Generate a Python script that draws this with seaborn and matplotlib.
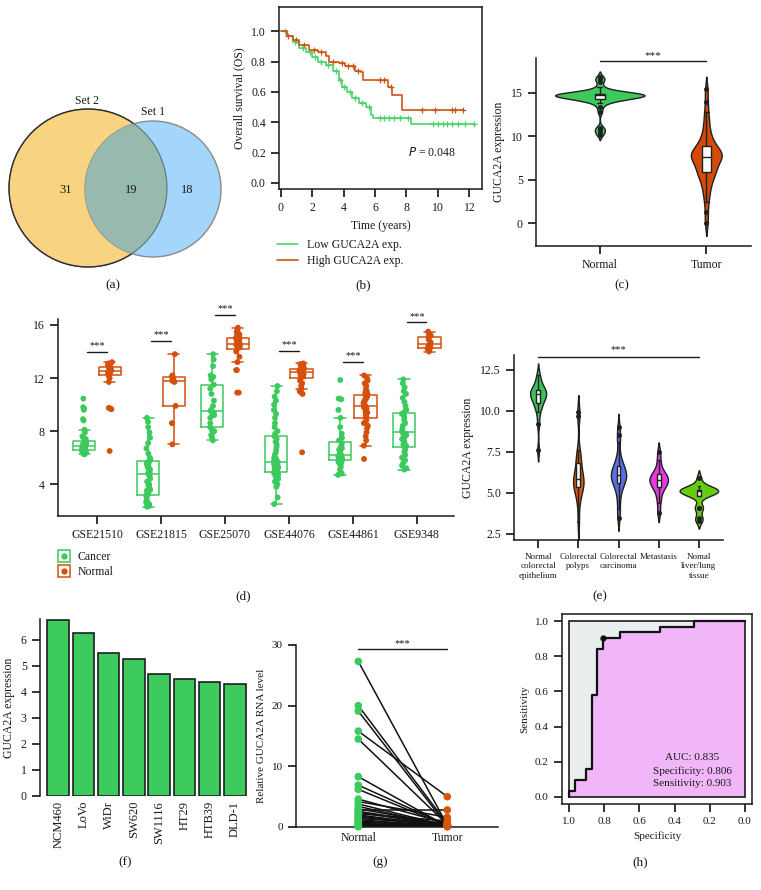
import numpy as np
import pandas as pd
import matplotlib
matplotlib.use('Agg')
import matplotlib.pyplot as plt
import seaborn as sns
from matplotlib.patches import Circle, Rectangle
from matplotlib.lines import Line2D

# ---------------- data ----------------
# (a) venn counts: only set 2, both, only set 1
venn_labels = ['Set 2', 'Set 1']
venn_counts = [31, 19, 18]

# (b) Kaplan-Meier steps
low_t = [0, 0.4, 0.8, 1.2, 1.6, 2.0, 2.4, 2.9, 3.3, 3.7, 3.9, 4.2, 4.55, 5.0, 5.4, 5.75, 5.85, 8.3, 12.35]
low_s = [1.0, 0.97, 0.93, 0.89, 0.86, 0.83, 0.80, 0.78, 0.74, 0.68, 0.63, 0.60, 0.56, 0.53, 0.50, 0.45, 0.43, 0.39, 0.39]
high_t = [0, 0.4, 0.8, 1.2, 1.8, 2.4, 2.9, 3.1, 3.7, 4.1, 4.75, 5.1, 5.25, 6.85, 7.05, 7.7, 11.6]
high_s = [1.0, 0.97, 0.94, 0.91, 0.875, 0.86, 0.84, 0.80, 0.79, 0.77, 0.74, 0.73, 0.68, 0.635, 0.58, 0.48, 0.48]
low_cens = [0.3, 0.9, 1.4, 1.9, 2.2, 2.6, 3.0, 3.5, 3.8, 4.0, 4.4, 4.7, 5.2, 5.6, 6.3, 6.6, 6.9, 7.2,
            7.6, 8.1, 9.7, 10.0, 10.3, 10.6, 10.9, 11.3, 11.7, 12.3]
high_cens = [0.5, 1.0, 1.5, 2.1, 2.6, 3.3, 3.9, 4.3, 4.6, 4.9, 6.3, 6.6, 7.0, 9.0, 9.8, 10.9, 11.1, 11.6]

# (c) expression, TCGA
c_groups = ['Normal', 'Tumor']
c_normal = [10.2, 10.5, 10.8, 11.0, 12.8, 13.4, 13.8, 14.0, 14.1, 14.2, 14.2, 14.3, 14.3, 14.4, 14.4,
            14.5, 14.5, 14.5, 14.6, 14.6, 14.6, 14.7, 14.7, 14.7, 14.7, 14.8, 14.8, 14.8, 14.8, 14.8,
            14.8, 14.8, 14.9, 14.9, 14.9, 14.9, 15.0, 15.0, 15.1, 15.2, 15.4, 15.7, 16.3, 16.6, 16.8]
c_tumor = [0.0, 1.3, 2.5, 3.2, 3.8, 4.3, 4.7, 5.0, 5.3, 5.6, 5.8, 6.0, 6.1, 6.3, 6.5, 6.7, 6.9, 7.1,
           7.3, 7.4, 7.5, 7.6, 7.7, 7.8, 7.9, 8.0, 8.1, 8.2, 8.3, 8.4, 8.6, 8.8, 9.0, 9.2, 9.5, 9.8,
           10.2, 10.7, 11.3, 12.0, 12.8, 14.0, 15.4]

# (d) GEO datasets
gse_names = ['GSE21510', 'GSE21815', 'GSE25070', 'GSE44076', 'GSE44861', 'GSE9348']
gse21510_cancer = [6.25, 6.3, 6.3, 6.35, 6.4, 6.4, 6.45, 6.5, 6.5, 6.55, 6.55, 6.6, 6.6, 6.65, 6.65,
                   6.7, 6.7, 6.75, 6.75, 6.8, 6.8, 6.85, 6.85, 6.9, 6.9, 6.95, 7.0, 7.0, 7.05, 7.05,
                   7.1, 7.15, 7.2, 7.4, 7.5, 7.6, 7.9, 8.1, 8.8, 8.9, 9.6, 9.7, 9.8, 10.45]
gse21510_normal = [6.5, 9.65, 9.7, 9.75, 11.7, 12.0, 12.2, 12.3, 12.35, 12.4, 12.45, 12.5, 12.55,
                   12.55, 12.6, 12.65, 12.7, 12.75, 12.8, 12.85, 12.9, 12.95, 13.0, 13.1, 13.2]
gse21815_cancer = [2.3, 2.35, 2.4, 2.45, 2.5, 2.55, 2.6, 2.7, 2.8, 3.0, 3.1, 3.2, 3.3, 3.5, 3.6, 3.8,
                   3.9, 4.0, 4.2, 4.4, 4.6, 4.7, 4.8, 4.85, 4.9, 5.0, 5.1, 5.2, 5.3, 5.4, 5.5, 5.6,
                   5.7, 5.8, 5.9, 6.0, 6.3, 6.7, 7.1, 7.5, 7.9, 8.3, 8.7, 9.0]
gse21815_normal = [7.0, 8.6, 9.9, 11.7, 11.8, 11.9, 12.1, 12.2, 13.8]
gse25070_cancer = [7.3, 7.5, 7.7, 7.9, 8.0, 8.1, 8.3, 8.6, 9.0, 9.2, 9.3, 9.4, 9.5, 9.6, 9.9, 10.3,
                   10.8, 11.2, 11.5, 11.9, 12.1, 12.2, 12.9, 13.4, 13.8]
gse25070_normal = [10.9, 10.9, 12.6, 12.6, 13.2, 13.6, 14.0, 14.3, 14.3, 14.4, 14.4, 14.5, 14.5, 14.6,
                   14.6, 14.7, 14.75, 14.8, 14.9, 15.0, 15.0, 15.1, 15.2, 15.3, 15.4, 15.5, 15.6, 15.8]
gse44076_cancer = [2.5, 3.0, 3.8, 4.0, 4.2, 4.4, 4.5, 4.6, 4.7, 4.75, 4.8, 4.85, 4.9, 5.0, 5.05, 5.1,
                   5.2, 5.25, 5.3, 5.4, 5.45, 5.5, 5.6, 5.65, 5.7, 5.75, 5.8, 5.9, 6.0, 6.2, 6.4, 6.6,
                   6.8, 7.0, 7.2, 7.4, 7.6, 7.8, 8.0, 8.3, 8.6, 9.0, 9.3, 9.6, 10.0, 10.3, 10.6, 11.0, 11.4]
gse44076_normal = [6.4, 10.8, 10.9, 11.0, 11.2, 11.4, 11.6, 11.8, 12.0, 12.1, 12.2, 12.25, 12.3, 12.35,
                   12.4, 12.4, 12.45, 12.5, 12.5, 12.55, 12.55, 12.6, 12.6, 12.65, 12.7, 12.7, 12.75,
                   12.8, 12.85, 12.9, 12.95, 13.0, 13.05, 13.1]
gse44861_cancer = [4.7, 4.8, 4.9, 5.1, 5.3, 5.5, 5.6, 5.7, 5.75, 5.8, 5.85, 5.9, 5.95, 6.0, 6.05, 6.1,
                   6.1, 6.15, 6.2, 6.3, 6.4, 6.5, 6.6, 6.7, 6.8, 6.9, 7.1, 7.3, 7.5, 7.8, 8.3, 9.0, 9.6,
                   10.4, 10.45, 11.85]
gse44861_normal = [5.9, 6.9, 7.3, 7.6, 7.9, 8.2, 8.4, 8.6, 8.8, 9.0, 9.1, 9.2, 9.3, 9.4, 9.5, 9.6, 9.7,
                   9.8, 9.9, 10.0, 10.0, 10.1, 10.2, 10.3, 10.4, 10.5, 10.6, 10.7, 10.8, 10.9, 11.0, 11.2,
                   11.4, 11.6, 11.8, 12.0, 12.2]
gse9348_cancer = [5.1, 5.2, 5.4, 5.6, 5.8, 6.0, 6.2, 6.4, 6.6, 6.8, 6.9, 7.0, 7.2, 7.4, 7.5, 7.6, 7.7,
                  7.8, 7.9, 8.0, 8.2, 8.4, 8.6, 8.8, 9.0, 9.2, 9.3, 9.4, 9.6, 9.9, 10.2, 10.5, 10.8, 11.0,
                  11.3, 11.6, 11.9]
gse9348_normal = [14.0, 14.1, 14.2, 14.3, 14.4, 14.5, 14.6, 14.7, 14.9, 15.1, 15.2, 15.3, 15.5]
gse_star_y = [14.0, 14.8, 16.75, 14.05, 13.2, 16.2]

# (e) tissue types
e_labels = ['Normal\ncolorectal\nepithelium', 'Colorectal\npolyps', 'Colorectal\ncarcinoma',
            'Metastasis', 'Nomal\nliver/lung\ntissue']
e_normal_epi = [7.6, 9.2, 9.9, 10.2, 10.4, 10.5, 10.7, 10.8, 10.9, 11.0, 11.0, 11.1, 11.2, 11.2, 11.3,
                11.4, 11.6, 11.9, 12.2]
e_polyps = [3.2, 4.3, 4.8, 5.1, 5.3, 5.4, 5.5, 5.6, 5.7, 5.8, 5.9, 6.0, 6.2, 6.5, 6.8, 7.0, 7.3, 7.6,
            9.7, 9.9]
e_carcinoma = [3.5, 4.0, 4.6, 5.0, 5.3, 5.5, 5.6, 5.7, 5.8, 5.9, 6.0, 6.1, 6.1, 6.2, 6.3, 6.4, 6.5,
               6.6, 6.8, 7.0, 7.3, 8.1, 8.5, 9.0]
e_metastasis = [3.8, 4.4, 4.8, 5.1, 5.3, 5.4, 5.5, 5.6, 5.7, 5.8, 5.8, 5.9, 6.0, 6.1, 6.2, 6.3, 6.6,
                7.0, 7.5]
e_liver_lung = [3.3, 3.5, 4.1, 4.1, 4.8, 4.9, 5.0, 5.0, 5.1, 5.1, 5.1, 5.2, 5.2, 5.3, 5.3, 5.4, 5.9]

# (f) cell lines
cell_lines = ['NCM460', 'LoVo', 'WiDr', 'SW620', 'SW1116', 'HT29', 'HTB39', 'DLD-1']
cell_expr = [6.75, 6.27, 5.5, 5.27, 4.69, 4.5, 4.38, 4.31]

# (g) paired qPCR
g_normal = [27.3, 20.0, 19.1, 15.8, 14.5, 8.3, 6.9, 6.2, 4.6, 4.2, 3.8, 3.4, 3.0, 2.8, 2.6, 2.4,
            2.2, 2.0, 1.8, 1.6, 1.4, 1.2, 1.0, 0.8, 0.6, 0.5, 0.4, 0.3, 0.2, 0.1, 0.05]
g_tumor = [0.3, 0.5, 0.2, 5.0, 0.4, 0.1, 0.3, 0.2, 0.6, 1.6, 0.2, 0.1, 0.4, 2.8, 0.3, 0.2, 1.0,
           0.1, 0.3, 0.2, 0.5, 0.1, 0.3, 0.2, 0.1, 0.4, 0.2, 0.1, 0.3, 0.2, 0.1]

# (h) ROC
roc_spec = [1.0, 1.0, 0.968, 0.968, 0.903, 0.903, 0.871, 0.871, 0.839, 0.839, 0.806, 0.806,
            0.71, 0.71, 0.484, 0.484, 0.29, 0.29, 0.0]
roc_sens = [0.0, 0.032, 0.032, 0.097, 0.097, 0.161, 0.161, 0.581, 0.581, 0.839, 0.839, 0.903,
            0.903, 0.935, 0.935, 0.968, 0.968, 1.0, 1.0]
roc_best = (0.806, 0.903)
roc_text = 'AUC: 0.835\nSpecificity: 0.806\nSensitivity: 0.903'

# ---------------- style ----------------
sns.set_theme(style='ticks')
plt.rcParams['font.family'] = ['Liberation Serif', 'DejaVu Serif']
plt.rcParams['font.size'] = 8
plt.rcParams['axes.labelsize'] = 8.5
plt.rcParams['xtick.labelsize'] = 8.5
plt.rcParams['ytick.labelsize'] = 8.5
plt.rcParams['axes.edgecolor'] = '#1a1a1a'
plt.rcParams['axes.linewidth'] = 1.1
plt.rcParams['xtick.color'] = '#1a1a1a'
plt.rcParams['ytick.color'] = '#1a1a1a'
plt.rcParams['text.color'] = '#1a1a1a'
plt.rcParams['axes.labelcolor'] = '#1a1a1a'

GREEN = '#3cc95d'
ORANGE = '#d4500c'
W, H = 761, 890
fig = plt.figure(figsize=(W / 100, H / 100), dpi=100)


def add_ax(l, t, r, b):
    return fig.add_axes([l / W, 1 - b / H, (r - l) / W, (b - t) / H])


def tag(x, y, s):
    fig.text(x / W, 1 - y / H, s, ha='center', va='center', fontsize=9.5)


def violins(ax, df, xcol, order, colors, widths, bw):
    # one call per group so each violin keeps its own width
    for grp, col, wd in zip(order, colors, widths):
        sns.violinplot(data=df[df[xcol] == grp], x=xcol, y='value', order=order, color=col,
                       inner=None, linecolor='#1f1f1f', linewidth=1.0, density_norm='width',
                       width=wd, bw_adjust=bw, saturation=1, ax=ax)
    sns.boxplot(data=df, x=xcol, y='value', order=order, color='white', linecolor='#1f1f1f',
                width=0.09, linewidth=1.0, fliersize=2.5, saturation=1,
                flierprops=dict(marker='o', markerfacecolor='#1f1f1f', markeredgecolor='#1f1f1f'),
                ax=ax)


# (a) venn
ax = add_ax(0, 80, 230, 280)
ax.set_xlim(0, 230)
ax.set_ylim(280, 80)
ax.axis('off')
c2 = Circle((88, 188), 79, facecolor='#f7d382', edgecolor='#222222', lw=1.0)
c1 = Circle((153, 189), 68, facecolor='#a3d6fa', edgecolor='#8a8a8a', lw=1.0)
ax.add_patch(c2)
ax.add_patch(c1)
ov = Circle((153, 189), 68, facecolor='#98baae', edgecolor='none')
ax.add_patch(ov)
ov.set_clip_path(c2)
ax.add_patch(Circle((88, 188), 79, facecolor='none', edgecolor='#3a3a3a', lw=0.8, alpha=0.6))
ax.text(87, 101, venn_labels[0], ha='center', va='center', fontsize=8.5)
ax.text(153, 112, venn_labels[1], ha='center', va='center', fontsize=8.5)
for x, n in zip([66, 131, 187], venn_counts):
    ax.text(x, 190, str(n), ha='center', va='center', fontsize=9)
tag(113, 285, '(a)')

# (b) survival
ax = add_ax(279, 7, 482, 189)
sns.lineplot(x=low_t, y=low_s, drawstyle='steps-post', color='#4ed36b', lw=1.2, ax=ax)
sns.lineplot(x=high_t, y=high_s, drawstyle='steps-post', color='#cf5414', lw=1.2, ax=ax)
low_cy = [low_s[np.searchsorted(low_t, t, side='right') - 1] for t in low_cens]
high_cy = [high_s[np.searchsorted(high_t, t, side='right') - 1] for t in high_cens]
sns.scatterplot(x=low_cens, y=low_cy, marker='+', color='#4ed36b', s=22, linewidth=0.9, ax=ax)
sns.scatterplot(x=high_cens, y=high_cy, marker='+', color='#cf5414', s=22, linewidth=0.9, ax=ax)
ax.set_xlim(-0.1, 12.8)
ax.set_ylim(-0.04, 1.16)
ax.set_xticks([0, 2, 4, 6, 8, 10, 12])
ax.set_yticks([0, 0.2, 0.4, 0.6, 0.8, 1.0])
ax.set_yticklabels(['0.0', '0.2', '0.4', '0.6', '0.8', '1.0'])
ax.set_xlabel('Time (years)')
ax.set_ylabel('Overall survival (OS)')
ax.text(9.6, 0.2, '$P$ = 0.048', ha='center', va='center', fontsize=8.5)
fig.legend([Line2D([], [], color='#4ed36b', lw=1.2), Line2D([], [], color='#cf5414', lw=1.2)],
           ['Low GUCA2A exp.', 'High GUCA2A exp.'], loc='upper left',
           bbox_to_anchor=(272 / W, 1 - 234 / H), frameon=False, fontsize=8.5,
           handlelength=1.8, labelspacing=0.35, borderaxespad=0)
tag(363, 285, '(b)')

# (c) violin normal / tumor
df_c = pd.DataFrame({'group': ['Normal'] * len(c_normal) + ['Tumor'] * len(c_tumor),
                     'value': c_normal + c_tumor})
ax = add_ax(536, 58, 751, 246)
violins(ax, df_c, 'group', c_groups, [GREEN, '#d44a06'], [0.84, 0.29], 0.5)
ax.set_xlim(-0.6, 1.42)
ax.set_ylim(-2.6, 19)
ax.set_yticks([0, 5, 10, 15])
ax.set_xlabel('')
ax.set_ylabel('GUCA2A expression')
sns.despine(ax=ax)
ax.plot([0, 1], [18.6, 18.6], color='#1a1a1a', lw=1.0, clip_on=False)
ax.text(0.5, 18.8, '***', ha='center', va='bottom', fontsize=8)
tag(622, 285, '(c)')

# (d) GEO boxplots
cancer_sets = [gse21510_cancer, gse21815_cancer, gse25070_cancer, gse44076_cancer,
               gse44861_cancer, gse9348_cancer]
normal_sets = [gse21510_normal, gse21815_normal, gse25070_normal, gse44076_normal,
               gse44861_normal, gse9348_normal]
rows = []
for name, cs, ns in zip(gse_names, cancer_sets, normal_sets):
    rows += [(name, 'Cancer', v) for v in cs]
    rows += [(name, 'Normal', v) for v in ns]
df_d = pd.DataFrame(rows, columns=['dataset', 'group', 'value'])
ax = add_ax(58, 319, 454, 516)
np.random.seed(3)
sns.boxplot(data=df_d, x='dataset', y='value', hue='group', hue_order=['Cancer', 'Normal'],
            palette=[GREEN, ORANGE], fill=False, width=0.8, gap=0.12, showfliers=False,
            linewidth=1.1, legend=False, ax=ax)
sns.stripplot(data=df_d, x='dataset', y='value', hue='group', hue_order=['Cancer', 'Normal'],
              palette=[GREEN, ORANGE], dodge=True, jitter=0.07, size=4.2, linewidth=0,
              legend=False, ax=ax)
ax.set_xlim(-0.61, 5.58)
ax.set_ylim(1.6, 16.45)
ax.set_yticks([4, 8, 12, 16])
ax.set_xlabel('')
ax.set_ylabel('')
sns.despine(ax=ax)
for i, sy in enumerate(gse_star_y):
    ax.plot([i - 0.15, i + 0.15], [sy, sy], color='#1a1a1a', lw=1.0, clip_on=False)
    ax.text(i, sy + 0.12, '***', ha='center', va='bottom', fontsize=7.5)
hd = [(Line2D([], [], ls='none', marker='s', mfc='none', mec=c, ms=8, mew=1.1),
       Line2D([], [], ls='none', marker='o', color=c, ms=3.5)) for c in [GREEN, ORANGE]]
fig.legend(hd, ['Cancer', 'Normal'], loc='upper left', bbox_to_anchor=(52 / W, 1 - 546 / H),
           frameon=False, fontsize=8.5, handlelength=1.2, labelspacing=0.25, borderaxespad=0,
           handletextpad=0.6)
tag(243, 596, '(d)')

# (e) violin tissue types
e_sets = [e_normal_epi, e_polyps, e_carcinoma, e_metastasis, e_liver_lung]
rows = []
for lab, vals in zip(e_labels, e_sets):
    rows += [(lab, v) for v in vals]
df_e = pd.DataFrame(rows, columns=['tissue', 'value'])
ax = add_ax(514, 355, 723, 540)
violins(ax, df_e, 'tissue', e_labels, ['#3dbf5a', '#d9560f', '#5b6ee1', '#e23be0', '#66cc12'],
        [0.4, 0.26, 0.38, 0.46, 0.96], 0.6)
ax.set_xlim(-0.6, 4.6)
ax.set_ylim(2.13, 13.4)
ax.set_yticks([2.5, 5.0, 7.5, 10.0, 12.5])
ax.set_yticklabels(['2.5', '5.0', '7.5', '10.0', '12.5'])
ax.tick_params(axis='x', labelsize=6.5)
ax.set_xlabel('')
ax.set_ylabel('GUCA2A expression')
sns.despine(ax=ax)
ax.plot([0, 4], [13.3, 13.3], color='#1a1a1a', lw=1.0, clip_on=False)
ax.text(2, 13.45, '***', ha='center', va='bottom', fontsize=7.5)
tag(600, 596, '(e)')

# (f) bar chart of cell lines
ax = add_ax(40, 619, 247, 796)
sns.barplot(x=cell_lines, y=cell_expr, color='#3ccb5c', edgecolor='#1f1f1f', linewidth=1.2,
            width=0.85, saturation=1, ax=ax)
ax.set_xlim(-0.72, 7.48)
ax.set_ylim(0, 6.8)
ax.set_yticks(range(0, 7))
ax.set_ylabel('GUCA2A expression')
ax.tick_params(axis='x', rotation=90, length=0, labelsize=9)
sns.despine(ax=ax, bottom=True)
tag(125, 862, '(f)')

# (g) paired dots
n_pair = len(g_normal)
df_g = pd.DataFrame({'pair': list(range(n_pair)) * 2, 'pos': [0] * n_pair + [1] * n_pair,
                     'group': ['Normal'] * n_pair + ['Tumor'] * n_pair,
                     'value': g_normal + g_tumor})
ax = add_ax(296, 645, 498, 827)
sns.lineplot(data=df_g, x='pos', y='value', units='pair', estimator=None, color='#111111',
             lw=1.1, ax=ax)
sns.scatterplot(data=df_g, x='pos', y='value', hue='group', palette=[GREEN, '#d9540a'], s=30,
                linewidth=0, legend=False, clip_on=False, zorder=3, ax=ax)
ax.set_xlim(-0.7, 1.57)
ax.set_ylim(0, 30)
ax.set_xticks([0, 1])
ax.set_xticklabels(['Normal', 'Tumor'])
ax.set_yticks([0, 10, 20, 30])
ax.tick_params(axis='x', length=0)
ax.tick_params(axis='y', labelsize=8)
ax.set_xlabel('')
ax.set_ylabel('Relative GUCA2A RNA level', fontsize=8)
sns.despine(ax=ax)
ax.plot([0, 1], [29.3, 29.3], color='#1a1a1a', lw=1.0, clip_on=False)
ax.text(0.5, 29.5, '***', ha='center', va='bottom', fontsize=7.5)
tag(380, 862, '(g)')

# (h) ROC
ax = add_ax(562, 614, 752, 804)
ax.fill_between([0, 1], 0, 1, color='#e8eded', lw=0)
ax.fill_between(roc_spec, roc_sens, 0, color='#f0b6f8', lw=0)
ax.add_patch(Rectangle((0, 0), 1, 1, fill=False, edgecolor='#1a1a1a', lw=1.2))
sns.lineplot(x=roc_spec, y=roc_sens, sort=False, estimator=None, color='#111111', lw=1.6, ax=ax)
ax.plot([roc_best[0]], [roc_best[1]], 'o', color='#111111', ms=3.5)
ax.set_xlim(1.04, -0.04)
ax.set_ylim(-0.04, 1.04)
ax.set_xticks([1.0, 0.8, 0.6, 0.4, 0.2, 0.0])
ax.set_xticklabels(['1.0', '0.8', '0.6', '0.4', '0.2', '0.0'])
ax.set_yticks([0.0, 0.2, 0.4, 0.6, 0.8, 1.0])
ax.set_yticklabels(['0.0', '0.2', '0.4', '0.6', '0.8', '1.0'])
ax.tick_params(labelsize=8)
ax.set_xlabel('Specificity', fontsize=8)
ax.set_ylabel('Sensitivity', fontsize=8)
ax.text(0.3, 0.15, roc_text, ha='center', va='center', fontsize=8, linespacing=1.45)
tag(640, 862, '(h)')

fig.savefig('out.png', dpi=100)
